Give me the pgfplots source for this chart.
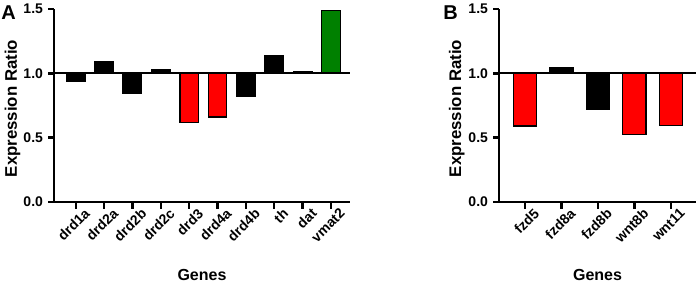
\documentclass[border=0pt]{standalone}
\usepackage{fontspec}
\setmainfont{Liberation Sans}
\usepackage{pgfplots}
\pgfplotsset{compat=1.18}
\definecolor{barred}{RGB}{255,0,0}
\definecolor{bargreen}{RGB}{0,128,0}
\pgfplotsset{
 gx/.style={
   scale only axis,
   axis x line=bottom,
   axis y line=left,
   axis line style={-, line width=1pt},
   height=96.5pt,
   ymin=-1, ymax=0.5,
   ytick={-1,-0.5,0,0.5},
   yticklabels={0.0,0.5,1.0,1.5},
   minor tick num=0,
   major tick length=0pt,
   tick label style={font=\bfseries\fontsize{7}{8}\selectfont},
   x tick label style={rotate=45, anchor=north east, inner sep=0pt, yshift=-4.5pt, xshift=1pt},
   y tick label style={xshift=-2pt},
   y filter/.expression={y-1},
   clip=false,
 },
 bb/.style={ybar, bar shift=0pt, draw=black, line width=0.7pt, fill=#1},
}
\begin{document}
\begin{tikzpicture}
\useasboundingbox (0,0) rectangle (349.5pt,-142pt);
% Panel A
\begin{axis}[gx, at={(27pt,-101pt)}, anchor=south west,
   width=148pt, xmin=-0.765, xmax=9.67,
   xtick={0,...,9},
   xticklabels={drd1a,drd2a,drd2b,drd2c,drd3,drd4a,drd4b,th,dat,vmat2},
   bar width=9.25pt]
\addplot[bb=black] coordinates {(0,0.94) (1,1.09) (2,0.847) (3,1.028) (6,0.82) (7,1.14) (8,1.012)};
\addplot[bb=barred] coordinates {(4,0.62) (5,0.66)};
\addplot[bb=bargreen] coordinates {(9,1.49)};
\addplot[sharp plot, no marks, black, line width=1pt] coordinates {(-0.765,1) (9.67,1)};
\end{axis}
% Panel B
\begin{axis}[gx, at={(249.5pt,-101pt)}, anchor=south west,
   width=98.5pt, xmin=-0.714, xmax=4.687,
   xtick={0,...,4},
   xticklabels={fzd5,fzd8a,fzd8b,wnt8b,wnt11},
   bar width=11.7pt]
\addplot[bb=black] coordinates {(1,1.04) (2,0.72)};
\addplot[bb=barred] coordinates {(0,0.59) (3,0.525) (4,0.595)};
\addplot[sharp plot, no marks, black, line width=1pt] coordinates {(-0.714,1) (4.687,1)};
\end{axis}
% tick marks
\draw[line width=1.2pt, black] (37.85pt,-101pt) -- (37.85pt,-104.5pt);
\draw[line width=1.2pt, black] (52.03pt,-101pt) -- (52.03pt,-104.5pt);
\draw[line width=1.2pt, black] (66.22pt,-101pt) -- (66.22pt,-104.5pt);
\draw[line width=1.2pt, black] (80.40pt,-101pt) -- (80.40pt,-104.5pt);
\draw[line width=1.2pt, black] (94.58pt,-101pt) -- (94.58pt,-104.5pt);
\draw[line width=1.2pt, black] (108.77pt,-101pt) -- (108.77pt,-104.5pt);
\draw[line width=1.2pt, black] (122.95pt,-101pt) -- (122.95pt,-104.5pt);
\draw[line width=1.2pt, black] (137.13pt,-101pt) -- (137.13pt,-104.5pt);
\draw[line width=1.2pt, black] (151.31pt,-101pt) -- (151.31pt,-104.5pt);
\draw[line width=1.2pt, black] (165.50pt,-101pt) -- (165.50pt,-104.5pt);
\draw[line width=1.2pt, black] (262.52pt,-101pt) -- (262.52pt,-104.5pt);
\draw[line width=1.2pt, black] (280.76pt,-101pt) -- (280.76pt,-104.5pt);
\draw[line width=1.2pt, black] (298.99pt,-101pt) -- (298.99pt,-104.5pt);
\draw[line width=1.2pt, black] (317.23pt,-101pt) -- (317.23pt,-104.5pt);
\draw[line width=1.2pt, black] (335.47pt,-101pt) -- (335.47pt,-104.5pt);
\draw[line width=1.2pt, black] (27pt,-101pt) -- (24pt,-101pt);
\draw[line width=1.2pt, black] (27pt,-68.83pt) -- (24pt,-68.83pt);
\draw[line width=1.2pt, black] (27pt,-36.67pt) -- (24pt,-36.67pt);
\draw[line width=1.2pt, black] (27pt,-4.5pt) -- (24pt,-4.5pt);
\draw[line width=1.2pt, black] (249.5pt,-101pt) -- (246.5pt,-101pt);
\draw[line width=1.2pt, black] (249.5pt,-68.83pt) -- (246.5pt,-68.83pt);
\draw[line width=1.2pt, black] (249.5pt,-36.67pt) -- (246.5pt,-36.67pt);
\draw[line width=1.2pt, black] (249.5pt,-4.5pt) -- (246.5pt,-4.5pt);
% labels
\node[anchor=base, font=\bfseries\fontsize{8}{9}\selectfont, inner sep=0pt] at (101pt,-140pt) {Genes};
\node[anchor=base, font=\bfseries\fontsize{8}{9}\selectfont, inner sep=0pt] at (298.75pt,-140pt) {Genes};
\node[rotate=90, anchor=base, font=\bfseries\fontsize{8.4}{9}\selectfont, inner sep=0pt] at (8.5pt,-54.25pt) {Expression Ratio};
\node[rotate=90, anchor=base, font=\bfseries\fontsize{8.4}{9}\selectfont, inner sep=0pt] at (230.5pt,-54.25pt) {Expression Ratio};
\node[anchor=base west, font=\bfseries\fontsize{10}{11}\selectfont, inner sep=0pt] at (0.5pt,-9.5pt) {A};
\node[anchor=base west, font=\bfseries\fontsize{10}{11}\selectfont, inner sep=0pt] at (221.5pt,-9.5pt) {B};
\end{tikzpicture}
\end{document}
